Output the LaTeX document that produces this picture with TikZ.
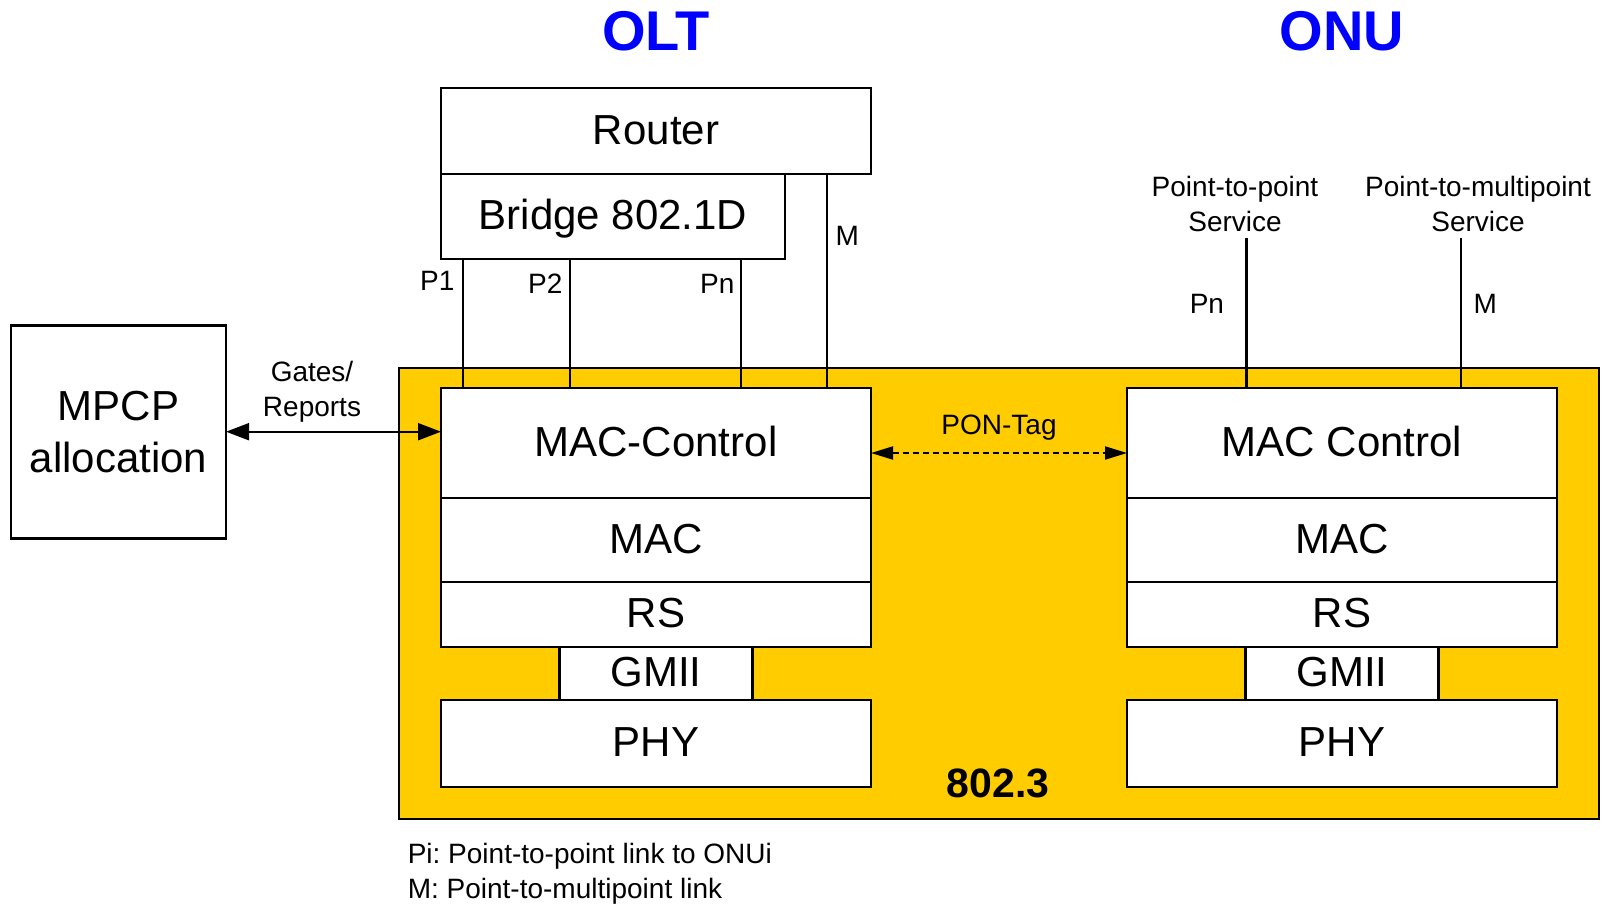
\documentclass[tikz,border=0pt]{standalone}
\usepackage{fontspec}
\setmainfont{Liberation Sans}
\frenchspacing
\usetikzlibrary{arrows.meta, positioning}
\definecolor{stdyellow}{HTML}{FFCC00}
\definecolor{titleblue}{HTML}{0000FF}

\begin{document}
\begin{tikzpicture}[
    x=1pt, y=-1pt,
    box/.style={rectangle, draw, fill=white, line width=2.7pt, outer sep=0pt, inner sep=2pt, minimum width=430pt, text height=30pt, text depth=4pt, font=\fontsize{42}{52}\selectfont, align=center},
    lbl/.style={font=\fontsize{28}{35}\selectfont, align=center},
    title/.style={font=\fontsize{56}{60}\selectfont\bfseries, text=titleblue},
    link/.style={line width=2.7pt},
    arrow/.style={<->, >={Triangle[length=23pt, width=17pt]}, line width=2pt}
]
    \useasboundingbox (0,0) rectangle (1602,903);

    % 802.3 area
    \node[draw, fill=stdyellow, line width=1.5pt, minimum width=1200pt, minimum height=451pt] (std) at (999,593.5) {};
    \node[font=\fontsize{41}{45}\selectfont\bfseries] (stdlabel) at (998,783) {802.3};

    % Titles
    \node[title] (olt) at (656,31) {OLT};
    \node[title] (onu) at (1342,31) {ONU};

    % OLT side
    \node[box, minimum height=86pt] (router) at (656,131) {Router};
    \node[box, minimum width=344pt, minimum height=85pt, below right=0pt and 0pt of router.south west] (bridge) {Bridge 802.1D};
    \node[box, minimum height=110pt] (oltctrl) at (656,443) {MAC-Control};
    \node[box, minimum height=84pt, below=0pt of oltctrl] (oltmac) {MAC};
    \node[box, minimum height=65pt, below=0pt of oltmac] (oltrs) {RS};
    \node[box, minimum width=193pt, minimum height=53pt, below=0pt of oltrs] (oltgmii) {GMII};
    \node[box, minimum height=87pt, below=0pt of oltgmii] (oltphy) {PHY};

    % ONU side
    \node[box, minimum height=110pt] (onuctrl) at (1342,443) {MAC Control};
    \node[box, minimum height=84pt, below=0pt of onuctrl] (onumac) {MAC};
    \node[box, minimum height=65pt, below=0pt of onumac] (onurs) {RS};
    \node[box, minimum width=193pt, minimum height=53pt, below=0pt of onurs] (onugmii) {GMII};
    \node[box, minimum height=87pt, below=0pt of onugmii] (onuphy) {PHY};

    % MPCP
    \node[box, minimum width=215pt, minimum height=213pt, text height={}, text depth={}] (mpcp) at (118.5,431.7) {MPCP\\allocation};

    % Ports
    \draw[link] ([xshift=22pt]bridge.south west) -- ([xshift=22pt]oltctrl.north west) node[lbl, left, pos=0.17, xshift=-4pt] {P1};
    \draw[link] ([xshift=129pt]bridge.south west) -- ([xshift=129pt]oltctrl.north west) node[lbl, left, pos=0.19, xshift=-3pt] {P2};
    \draw[link] ([xshift=300pt]bridge.south west) -- ([xshift=300pt]oltctrl.north west) node[lbl, left, pos=0.19, xshift=-2pt] {Pn};
    \draw[link] ([xshift=386pt]router.south west) -- ([xshift=386pt]oltctrl.north west) node[lbl, right, pos=0.29, xshift=4pt] {M};

    % Services
    \node[lbl] (ptpsvc) at (1235,204) {Point-to-point\\Service};
    \node[lbl] (mpsvc) at (1478,204) {Point-to-multipoint\\Service};
    \coordinate (ptp) at (1246.7,238);
    \coordinate (mp) at (1461,238);
    \draw[link] (ptp) -- (ptp |- onuctrl.north) node[lbl, left, pos=0.44, xshift=-18pt] {Pn};
    \draw[link] (mp) -- (mp |- onuctrl.north) node[lbl, right, pos=0.44, xshift=8pt] {M};

    % Arrows
    \draw[arrow] (mpcp.east) -- (mpcp.east -| oltctrl.west) node[lbl, above, pos=0.4, yshift=5pt] {Gates/\\Reports};
    \draw[arrow, >={Triangle[length=22pt, width=13pt]}, dash pattern=on 6pt off 4pt] ([yshift=-10pt]oltctrl.east) -- ([yshift=-10pt]onuctrl.west) node[lbl, midway, above, yshift=8pt] {PON-Tag};

    % Legend
    \node[lbl, align=left, anchor=north west, inner sep=0pt] (legend) at (407.6,843) {Pi: Point-to-point link to ONUi\\M: Point-to-multipoint link};
\end{tikzpicture}
\end{document}
